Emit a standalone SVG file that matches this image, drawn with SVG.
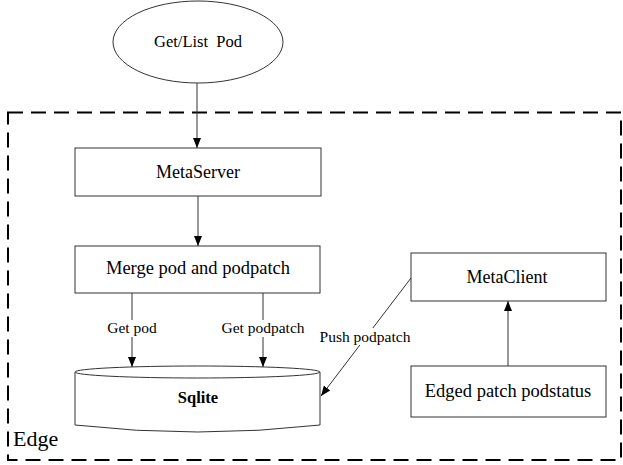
<svg xmlns="http://www.w3.org/2000/svg" width="623" height="465" viewBox="0 0 623 465">
<defs>
<marker id="arr" viewBox="0 0 10 10" refX="10" refY="5" markerWidth="10" markerHeight="10" markerUnits="userSpaceOnUse" orient="auto">
<path d="M0,1 L10,5 L0,9 Z" fill="#000"/>
</marker>
</defs>
<style>
.box{fill:#fff;stroke:#333;stroke-width:1}
text{font-family:'Liberation Serif','Times New Roman','DejaVu Serif',serif;fill:#000}
.t{text-anchor:middle}
.lbl{font-size:15.5px;text-anchor:middle}
.line{stroke:#333;stroke-width:1;fill:none}
</style>
<rect width="623" height="465" fill="#fff"/>
<g id="edge-boundary">
<rect x="8" y="112.5" width="613" height="347.5" fill="none" stroke="#000" stroke-width="2" stroke-dasharray="15 8"/>
<text x="13" y="446" font-size="22">Edge</text>
</g>
<g id="get-list-pod">
<ellipse cx="198" cy="42" rx="85" ry="41" class="box"/>
<text x="198" y="47" class="t" font-size="16.5" xml:space="preserve">Get/List  Pod</text>
</g>
<g id="metaserver">
<rect x="75" y="148" width="246" height="48" class="box"/>
<text x="198" y="178" class="t" font-size="18">MetaServer</text>
</g>
<g id="merge">
<rect x="75" y="246" width="245" height="47" class="box"/>
<text x="198" y="274" class="t" font-size="18.5">Merge pod and podpatch</text>
</g>
<g id="sqlite">
<path d="M75,372 L75,425 Q198,439 320,425 L320,372" class="box"/>
<ellipse cx="197.5" cy="372" rx="122.5" ry="6" class="box"/>
<text x="198" y="403" class="t" font-size="16.5" font-weight="bold">Sqlite</text>
</g>
<g id="metaclient">
<rect x="411" y="253" width="195" height="48" class="box"/>
<text x="507" y="283" class="t" font-size="18">MetaClient</text>
</g>
<g id="edged-patch">
<rect x="411" y="366" width="195" height="51" class="box"/>
<text x="508" y="397" class="t" font-size="18.5">Edged patch podstatus</text>
</g>
<g id="connectors">
<path d="M197,83 L197,148" class="line" marker-end="url(#arr)"/>
<path d="M198,196 L198,246" class="line" marker-end="url(#arr)"/>
<path d="M132,293 L132,367" class="line" marker-end="url(#arr)"/>
<path d="M263,293 L263,367" class="line" marker-end="url(#arr)"/>
<path d="M411,278 L321,396" class="line" marker-end="url(#arr)"/>
<path d="M508,366 L508,301" class="line" marker-end="url(#arr)"/>
<rect x="104" y="320" width="56" height="17" fill="#fff"/>
<text x="132" y="333" class="lbl">Get pod</text>
<rect x="220" y="320" width="86" height="17" fill="#fff"/>
<text x="263" y="333" class="lbl">Get podpatch</text>
<rect x="317" y="328" width="96" height="17" fill="#fff"/>
<text x="365" y="342" class="lbl">Push podpatch</text>
</g>
</svg>
